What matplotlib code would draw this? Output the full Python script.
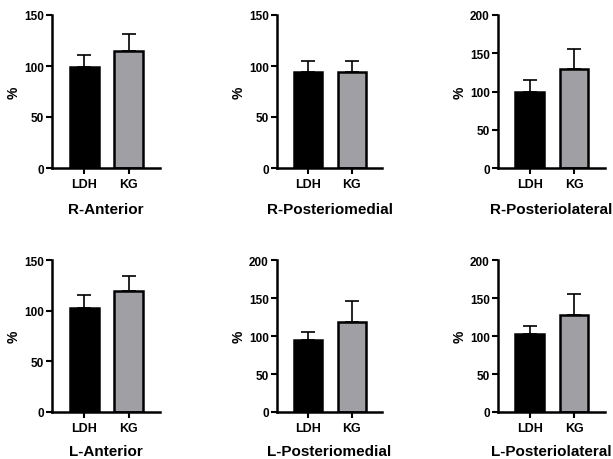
import matplotlib.pyplot as plt

plt.rcParams['font.family'] = ['Liberation Sans', 'DejaVu Sans']
plt.rcParams['font.weight'] = 'bold'

GROUPS = ['LDH', 'KG']
REGIONS = ['R-Anterior', 'R-Posteriomedial', 'R-Posteriolateral',
           'L-Anterior', 'L-Posteriomedial', 'L-Posteriolateral']

# mean values (%) per region, [LDH, KG]
MEANS = [[99, 115], [94, 94], [100, 129],
         [103, 119], [95, 119], [103, 127]]
# upper error (SD) per region
ERRS = [[12, 16], [11, 11], [15, 27],
        [12, 15], [10, 27], [10, 28]]
YMAX = [150, 150, 200, 150, 200, 200]

COLORS = ['#000000', '#a0a0a4']

W, H = 613, 460
fig = plt.figure(figsize=(W / 100, H / 100), dpi=100)

# axes boxes in pixels: left, right, top, bottom
lefts = [52, 277, 498]
rights = [160, 382, 605]
tops = [16, 261]
bottoms = [169, 413]
pads = [9, 7.5]

for i, name in enumerate(REGIONS):
    r, c = divmod(i, 3)
    l, rt, t, b = lefts[c], rights[c], tops[r], bottoms[r]
    ax = fig.add_axes([l / W, 1 - b / H, (rt - l) / W, (b - t) / H])
    x = range(len(GROUPS))
    ax.bar(x, MEANS[i], width=0.65, color=COLORS, edgecolor='black',
           linewidth=1.8, zorder=2)
    ax.errorbar(x, MEANS[i], yerr=[[0, 0], ERRS[i]], fmt='none',
                ecolor='black', elinewidth=1.2, capsize=5, capthick=1.2,
                zorder=1)
    ax.set_xlim(-0.72, 1.7)
    ax.set_ylim(0, YMAX[i])
    ax.set_yticks(range(0, YMAX[i] + 1, 50))
    ax.set_xticks(list(x))
    ax.set_xticklabels(GROUPS, fontsize=9, fontweight='bold')
    ax.tick_params(axis='y', labelsize=8.5, width=1.5, length=4, pad=2)
    ax.tick_params(axis='x', width=1.5, length=4, pad=3)
    for lab in ax.get_yticklabels():
        lab.set_fontweight('bold')
    for s in ['top', 'right']:
        ax.spines[s].set_visible(False)
    for s in ['left', 'bottom']:
        ax.spines[s].set_linewidth(1.8)
    ax.set_ylabel('%', fontsize=10, fontweight='bold', labelpad=2)
    ax.set_xlabel(name, fontsize=11, fontweight='bold', labelpad=pads[r])

fig.savefig('out.png', dpi=100)
